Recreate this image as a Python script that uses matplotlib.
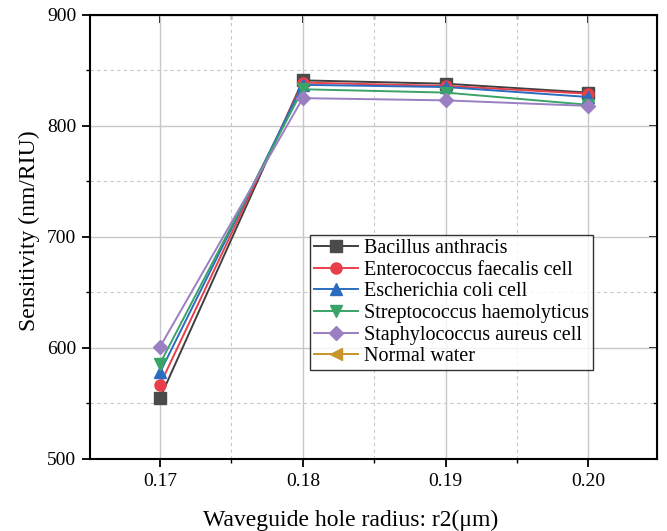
import numpy as np
import matplotlib.pyplot as plt

# data
radius = [0.17, 0.18, 0.19, 0.20]
bacillus = [555, 841, 838, 830]
enterococcus = [567, 839, 836, 829]
ecoli = [578, 837, 835, 826]
strepto = [586, 833, 830, 819]
staphylo = [601, 825, 823, 818]
normal_water = [np.nan, np.nan, np.nan, np.nan]  # in legend, not visible in the plot

series = [
    ("Bacillus anthracis", bacillus, "#3f3f3f", "#4a4a4a", "s"),
    ("Enterococcus faecalis cell", enterococcus, "#e8404a", "#e8404a", "o"),
    ("Escherichia coli cell", ecoli, "#2b6cc0", "#2b6cc0", "^"),
    ("Streptococcus haemolyticus", strepto, "#3aa368", "#3aa368", "v"),
    ("Staphylococcus aureus cell", staphylo, "#9a7fc2", "#9a7fc2", "D"),
    ("Normal water", normal_water, "#c8952a", "#c8952a", "<"),
]

plt.rcParams["font.family"] = ["Liberation Serif", "DejaVu Serif"]

fig = plt.figure(figsize=(6.67, 5.31), dpi=100)
ax = fig.add_axes([0.135, 0.1356, 0.85, 0.8364])

for name, vals, lc, mc, mk in series:
    ms = 7 if mk == "D" else 8
    ax.plot(radius, vals, color=lc, lw=1.4, marker=mk, ms=ms,
            markerfacecolor=mc, markeredgecolor=mc, label=name)

ax.set_xlim(0.1651, 0.2048)
ax.set_ylim(500, 900)
ax.set_xticks(radius)
ax.set_xticklabels(["0.17", "0.18", "0.19", "0.20"])
ax.set_yticks([500, 600, 700, 800, 900])
ax.set_xticks([0.175, 0.185, 0.195], minor=True)
ax.set_yticks([550, 650, 750, 850], minor=True)

ax.grid(which="major", color="#c8c8c8", lw=1.0, ls="-")
ax.grid(which="minor", color="#c8c8c8", lw=0.8, ls=(0, (3, 3)))
ax.set_axisbelow(True)

ax.tick_params(which="major", direction="out", length=6, width=1.3, labelsize=14, pad=4)
ax.tick_params(which="minor", direction="out", length=3, width=1.0)
for s in ax.spines.values():
    s.set_linewidth(1.5)
    s.set_color("black")

# inward ticks on top and right like the original
top = ax.secondary_xaxis("top")
top.set_xticks(radius)
top.set_xticks([0.175, 0.185, 0.195], minor=True)
top.tick_params(which="major", direction="in", length=6, width=1.3, labeltop=False)
top.tick_params(which="minor", direction="in", length=3, width=1.0)
right = ax.secondary_yaxis("right")
right.set_yticks([500, 600, 700, 800, 900])
right.set_yticks([550, 650, 750, 850], minor=True)
right.tick_params(which="major", direction="in", length=6, width=1.3, labelright=False)
right.tick_params(which="minor", direction="in", length=3, width=1.0)

ax.set_xlabel("Waveguide hole radius: r2(\u03bcm)", fontsize=17, labelpad=14)
ax.xaxis.label.set_x(0.46)
ax.set_ylabel("Sensitivity (nm/RIU)", fontsize=17, labelpad=5)
ax.yaxis.label.set_y(0.515)

leg = ax.legend(loc="upper left", bbox_to_anchor=(0.388, 0.505), fontsize=14.5,
                frameon=True, fancybox=False, borderpad=0.2, labelspacing=0.13,
                handlelength=2.2, handletextpad=0.3, borderaxespad=0)
leg.get_frame().set_edgecolor("black")
leg.get_frame().set_linewidth(1.0)

fig.savefig("out.png", dpi=100)
